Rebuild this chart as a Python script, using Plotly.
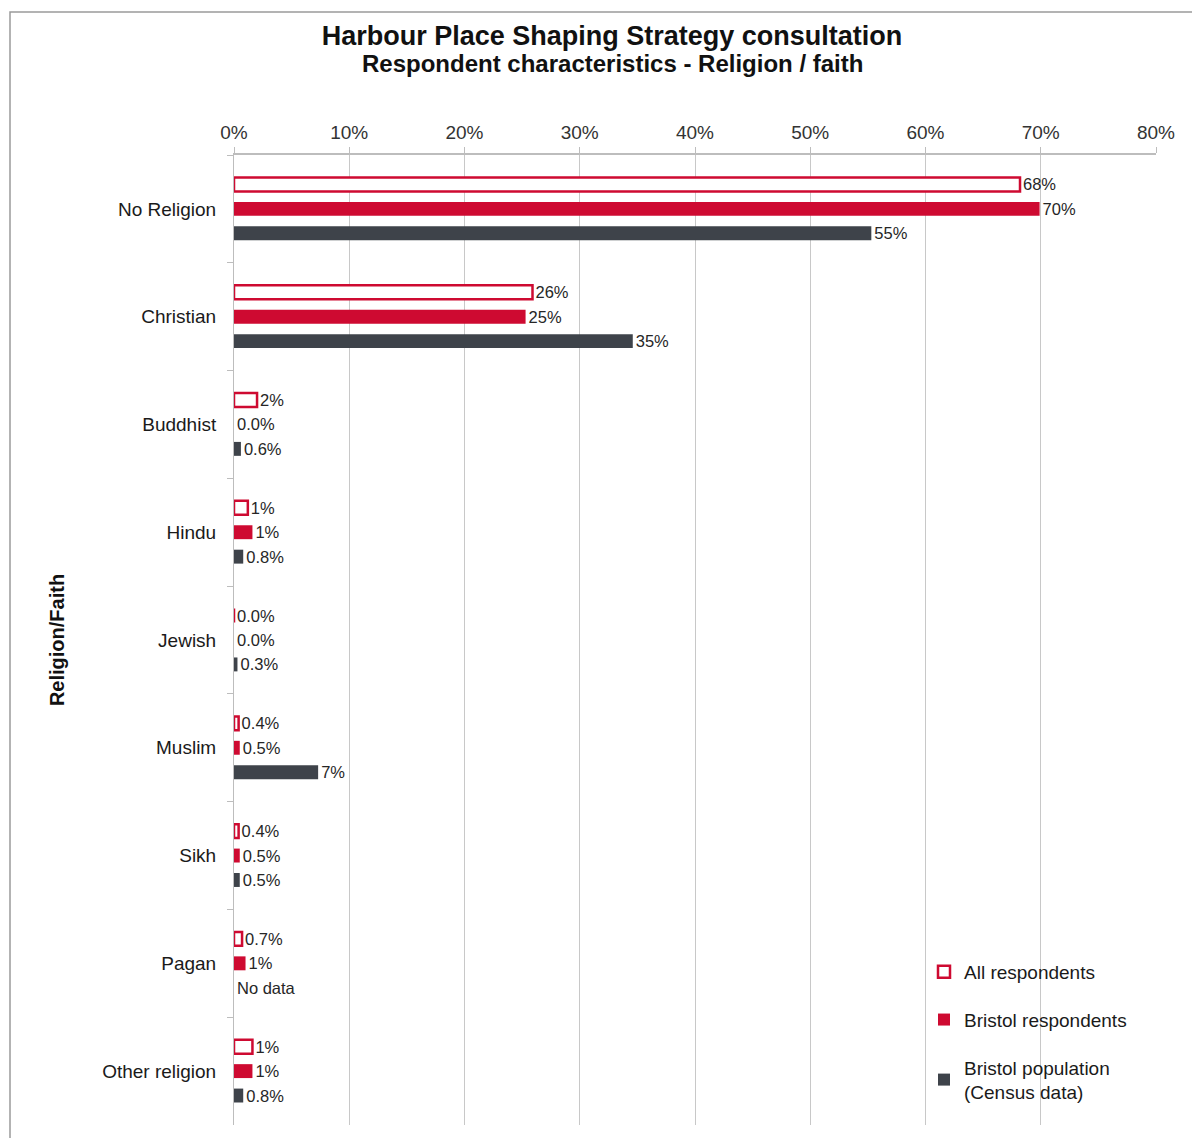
import plotly.graph_objects as go

categories = ["No Religion", "Christian", "Buddhist", "Hindu", "Jewish",
              "Muslim", "Sikh", "Pagan", "Other religion"]
all_resp = [68.2, 25.9, 2.0, 1.2, 0.0, 0.4, 0.4, 0.7, 1.6]
bristol_resp = [69.9, 25.3, 0.0, 1.6, 0.0, 0.5, 0.5, 1.0, 1.6]
census = [55.3, 34.6, 0.6, 0.8, 0.3, 7.3, 0.5, 0.0, 0.8]
all_labels = ["68%", "26%", "2%", "1%", "0.0%", "0.4%", "0.4%", "0.7%", "1%"]
bristol_labels = ["70%", "25%", "0.0%", "1%", "0.0%", "0.5%", "0.5%", "1%", "1%"]
census_labels = ["55%", "35%", "0.6%", "0.8%", "0.3%", "7%", "0.5%", "No data", "0.8%"]
tick_vals = [0, 10, 20, 30, 40, 50, 60, 70, 80]
tick_text = ["0%", "10%", "20%", "30%", "40%", "50%", "60%", "70%", "80%"]

RED = "#CE0A31"
DARK = "#3E434A"
FONT = "Liberation Sans, Arial, sans-serif"
TXT = dict(family=FONT, size=16.5, color="#262626")

# page offset (body margin) and figure size
OFF = 8
W, H = 1192, 1130
L, R, T, B = 234 - OFF, OFF + W - 1156, 155 - OFF, OFF + H - 1125
PW, PH = 1156 - 234, 1125 - 155


def px_x(page_x):
    return (page_x - 234) / PW


def px_y(page_y):
    return (1125 - page_y) / PH


fig = go.Figure()
fig.add_trace(go.Bar(
    y=categories, x=all_resp, orientation="h", name="All respondents",
    marker=dict(color="white", line=dict(color=RED, width=2.5)),
    text=all_labels, textposition="outside", textfont=TXT, cliponaxis=False,
    constraintext="none", legendgroup="a"))
fig.add_trace(go.Bar(
    y=categories, x=bristol_resp, orientation="h", name="Bristol respondents",
    marker=dict(color=RED, line=dict(width=0)),
    text=bristol_labels, textposition="outside", textfont=TXT, cliponaxis=False,
    constraintext="none", legendgroup="b"))
fig.add_trace(go.Bar(
    y=categories, x=census, orientation="h", name="Bristol population<br>(Census data)",
    marker=dict(color=DARK, line=dict(width=0)),
    text=census_labels, textposition="outside", textfont=TXT, cliponaxis=False,
    constraintext="none", legendgroup="c"))

fig.update_layout(
    width=W, height=H,
    paper_bgcolor="white", plot_bgcolor="white",
    barmode="group", bargap=0.32, bargroupgap=0.43,
    margin=dict(l=L, r=R, t=T, b=B),
    font=dict(family=FONT, color="#1a1a1a"),
    title=dict(
        text="<b>Harbour Place Shaping Strategy consultation</b>",
        x=px_x(612), xref="paper", xanchor="center",
        y=1 - (36 - OFF) / H, yanchor="middle",
        font=dict(family=FONT, size=27, color="#111111")),
    annotations=[dict(
        text="<b>Respondent characteristics - Religion / faith</b>",
        x=px_x(612), y=px_y(64), xref="paper", yref="paper",
        xanchor="center", yanchor="middle", showarrow=False,
        font=dict(family=FONT, size=24, color="#111111"))],
    showlegend=True,
    legend=dict(x=px_x(924), y=px_y(953), xanchor="left", yanchor="top",
                bgcolor="rgba(0,0,0,0)", font=dict(family=FONT, size=19, color="#1a1a1a"),
                tracegroupgap=20, itemwidth=30, traceorder="grouped"),
    xaxis=dict(side="top", range=[0, 80], tickvals=tick_vals, ticktext=tick_text,
               showgrid=True, gridcolor="#c8c8c8", gridwidth=1,
               showline=True, linecolor="#bdbdbd", linewidth=2,
               ticks="outside", ticklen=6, tickcolor="#bdbdbd",
               tickfont=dict(family=FONT, size=19, color="#333333"),
               zeroline=False, fixedrange=True),
    yaxis=dict(autorange="reversed", showline=True, linecolor="#bdbdbd", linewidth=1,
               ticks="outside", tickson="boundaries", ticklen=6, tickcolor="#bdbdbd",
               ticklabelstandoff=13,
               tickfont=dict(family=FONT, size=19, color="#1a1a1a"),
               title=dict(text="<b>Religion/Faith</b>", standoff=32,
                          font=dict(family=FONT, size=20, color="#111111"))),
)

# outer frame (only top and left edges visible in the picture)
fig.add_shape(type="rect", xref="paper", yref="paper",
              x0=px_x(10), x1=px_x(1240),
              y0=px_y(1180), y1=px_y(12),
              line=dict(color="#9a9a9a", width=1.5), fillcolor="rgba(0,0,0,0)", layer="below")

fig.write_html("out.html")
